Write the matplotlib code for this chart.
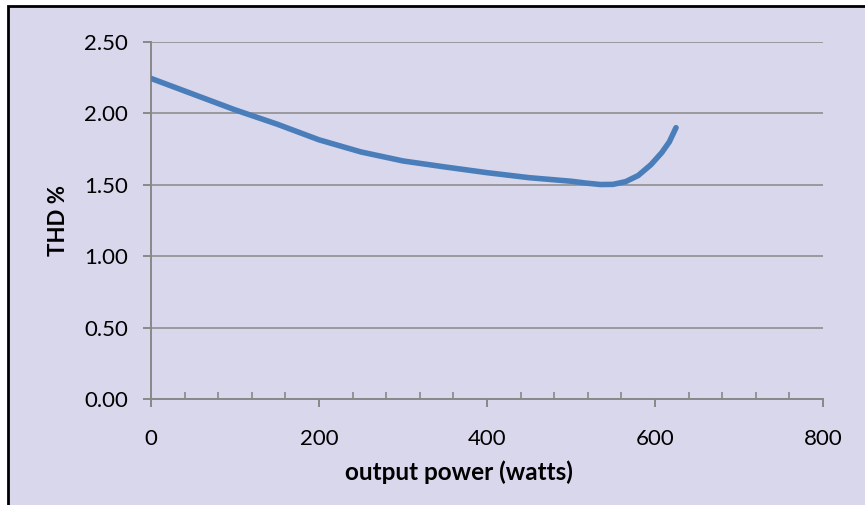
import matplotlib.pyplot as plt
from matplotlib.patches import Rectangle
from matplotlib.ticker import MultipleLocator, FormatStrFormatter

# data
power = [0, 50, 100, 150, 200, 250, 300, 350, 400, 450, 500, 518, 535, 550,
         565, 580, 595, 608, 617, 625]
thd = [2.245, 2.135, 2.025, 1.925, 1.815, 1.73, 1.667, 1.625, 1.585, 1.55,
       1.525, 1.512, 1.502, 1.503, 1.522, 1.565, 1.64, 1.725, 1.80, 1.90]

bg = "#D9D7EC"
grid = "#888888"

plt.rcParams['font.family'] = ['Lato', 'DejaVu Sans']

fig = plt.figure(figsize=(8.65, 5.05), dpi=100, facecolor="white")
# chart area with black border (cropped at right/bottom)
fig.patches.append(Rectangle((8 / 865, -0.1), 1.2, 1.1 - 6 / 505,
                             transform=fig.transFigure, fc=bg, ec="black",
                             lw=2, zorder=-10))

ax = fig.add_axes([151 / 865, 1 - 399 / 505, 672 / 865, 357 / 505])
ax.set_facecolor(bg)

ax.plot(power, thd, color="#4A7EBB", lw=4.0, solid_capstyle="round",
        solid_joinstyle="round", zorder=3)

ax.set_xlim(0, 800)
ax.set_ylim(0, 2.5)
ax.xaxis.set_major_locator(MultipleLocator(200))
ax.xaxis.set_minor_locator(MultipleLocator(40))
ax.yaxis.set_major_locator(MultipleLocator(0.5))
ax.yaxis.set_major_formatter(FormatStrFormatter("%.2f"))

ax.grid(axis="y", color=grid, lw=1.1)
ax.set_axisbelow(True)
for s in ["top", "right"]:
    ax.spines[s].set_visible(False)
for s in ["left", "bottom"]:
    ax.spines[s].set_color(grid)
    ax.spines[s].set_linewidth(1.4)

ax.tick_params(axis="x", which="major", direction="out", length=5.5, width=1.4,
               color=grid, labelsize=16, pad=16)
ax.tick_params(axis="x", which="minor", direction="in", length=5, width=1.2,
               color=grid)
ax.tick_params(axis="y", which="major", direction="out", length=5.5, width=1.4,
               color=grid, labelsize=16, pad=11)

ax.set_xlabel("output power (watts)", fontsize=17.5, fontweight="bold")
ax.xaxis.set_label_coords(0.458, -0.172)
ax.set_ylabel("THD %", fontsize=16, fontweight="bold", labelpad=11)

fig.savefig("out.png", dpi=100, facecolor="white")
